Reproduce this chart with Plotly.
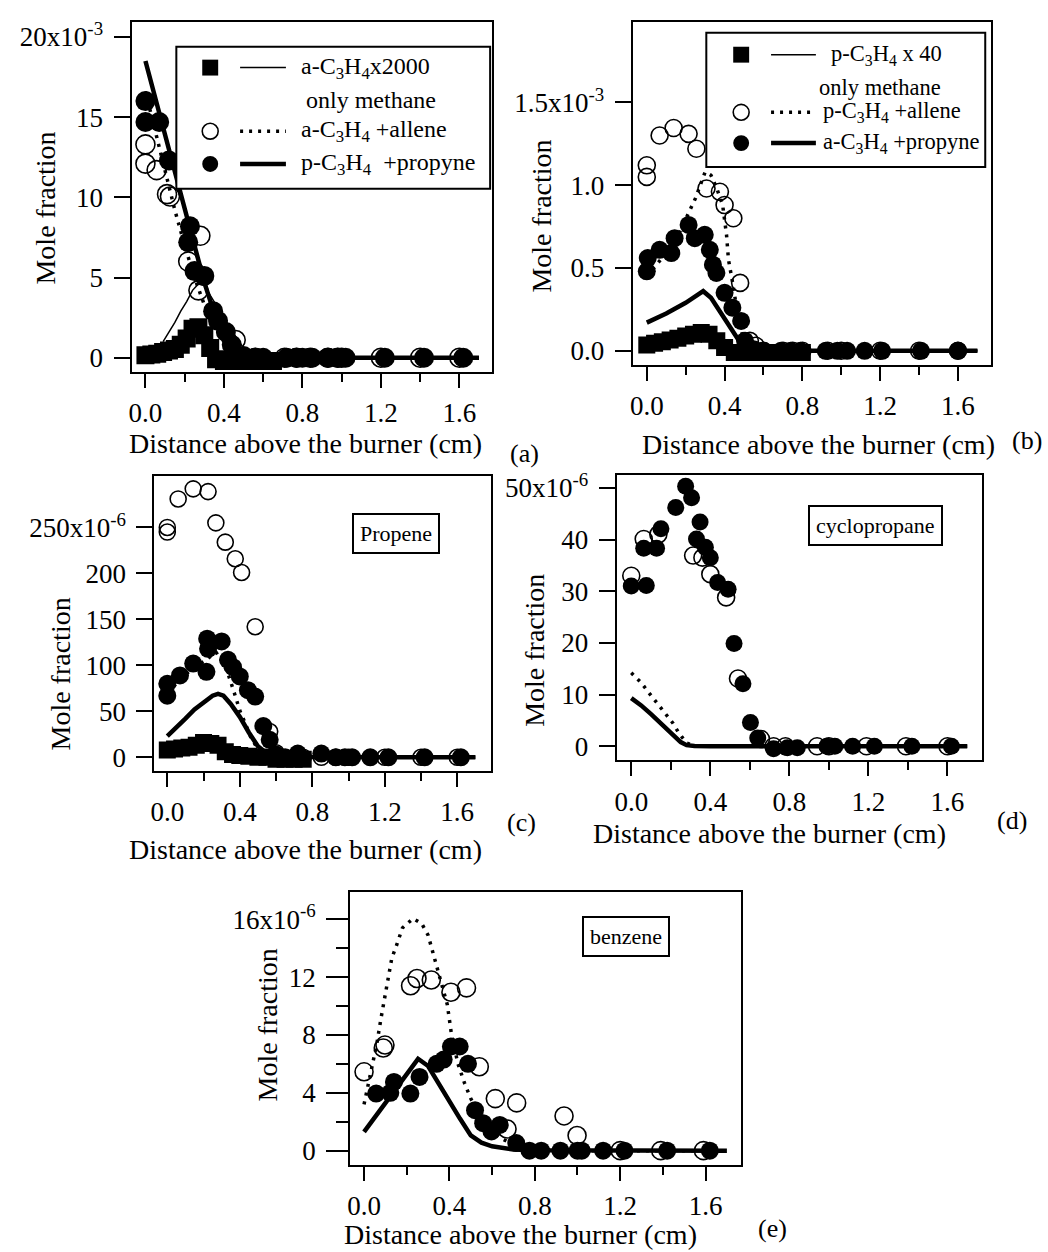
import plotly.graph_objects as go

W, H = 1048, 1252
FONT = "Liberation Serif"

# ---------------- data (y in units of the top tick exponent) ----------------
X_TICKS = [0.0, 0.4, 0.8, 1.2, 1.6]
X_TICK_TEXT = ["0.0", "0.4", "0.8", "1.2", "1.6"]
X_MINOR = [0.2, 0.6, 1.0, 1.4]

# (a) a-C3H4, units 1e-3
a_open_x = [0.0, 0.0, 0.057, 0.11, 0.125, 0.218, 0.28, 0.27, 0.46, 0.56, 0.71, 0.77, 0.84, 0.93, 0.98, 1.0, 1.2, 1.4, 1.6]
a_open_y = [13.3, 12.1, 11.7, 10.2, 10.05, 6.0, 7.6, 4.2, 1.1, 0.0, 0.0, 0.0, 0.0, 0.0, 0.0, 0.0, 0.0, 0.0, 0.0]
a_fill_x = [0.0, 0.0, 0.07, 0.12, 0.227, 0.218, 0.25, 0.3, 0.345, 0.37, 0.41, 0.44, 0.5, 0.56, 0.6, 0.72, 0.77, 0.8, 0.85, 0.93, 0.98, 1.02, 1.22, 1.42, 1.62]
a_fill_y = [16.0, 14.7, 14.7, 12.3, 8.2, 7.2, 5.4, 5.1, 2.9, 2.3, 1.6, 0.8, 0.1, 0.0, 0.0, 0.0, 0.0, 0.0, 0.0, 0.0, 0.0, 0.0, 0.0, 0.0, 0.0]
a_sq_x = [0.0, 0.03, 0.06, 0.09, 0.12, 0.15, 0.18, 0.21, 0.24, 0.27, 0.3, 0.33, 0.36, 0.4, 0.45, 0.5, 0.55, 0.6, 0.65]
a_sq_y = [0.15, 0.2, 0.25, 0.35, 0.45, 0.55, 0.8, 1.2, 1.8, 1.9, 1.4, 0.6, -0.1, -0.2, -0.2, -0.2, -0.2, -0.2, -0.2]
a_model_x = [0.0, 0.05, 0.1, 0.15, 0.2, 0.25, 0.3, 0.35, 0.4, 0.45, 0.5, 0.55, 0.6, 0.7, 0.8, 1.0, 1.2, 1.4, 1.7]
a_thick_y = [18.5, 16.2, 13.9, 11.6, 9.2, 6.9, 4.7, 2.8, 1.4, 0.6, 0.25, 0.1, 0.05, 0.0, 0.0, 0.0, 0.0, 0.0, 0.0]
a_dot_y = [16.6, 14.1, 11.5, 9.2, 7.0, 5.0, 3.3, 2.0, 1.0, 0.4, 0.15, 0.05, 0.0, 0.0, 0.0, 0.0, 0.0, 0.0, 0.0]
a_thin_x = [0.09, 0.12, 0.15, 0.18, 0.21, 0.24, 0.27, 0.3, 0.35, 0.4, 0.45, 0.5, 0.55, 0.6, 0.8, 1.0, 1.2, 1.4, 1.7]
a_thin_y = [1.0, 1.6, 2.2, 2.9, 3.5, 4.2, 4.6, 4.5, 3.5, 2.5, 1.5, 0.6, 0.15, 0.03, 0.0, 0.0, 0.0, 0.0, 0.0]

# (b) p-C3H4, units 1e-3
b_open_x = [0.0, 0.0, 0.066, 0.138, 0.215, 0.255, 0.307, 0.376, 0.40, 0.445, 0.48, 0.53, 0.56, 0.6, 0.7, 0.75, 0.8, 0.93, 1.0, 1.2, 1.4, 1.6]
b_open_y = [1.12, 1.05, 1.30, 1.345, 1.31, 1.22, 0.98, 0.96, 0.88, 0.80, 0.41, 0.06, 0.03, 0.0, 0.0, 0.0, 0.0, 0.0, 0.0, 0.0, 0.0, 0.0]
b_fill_x = [0.0, 0.005, 0.066, 0.126, 0.143, 0.215, 0.247, 0.298, 0.324, 0.34, 0.358, 0.40, 0.44, 0.485, 0.505, 0.55, 0.6, 0.69, 0.74, 0.79, 0.92, 0.98, 1.03, 1.12, 1.21, 1.41, 1.6]
b_fill_y = [0.48, 0.56, 0.61, 0.59, 0.68, 0.76, 0.68, 0.70, 0.61, 0.52, 0.47, 0.35, 0.26, 0.18, 0.06, 0.01, 0.0, 0.0, 0.0, 0.0, 0.0, 0.0, 0.0, 0.0, 0.0, 0.0, 0.0]
b_sq_x = [0.0, 0.04, 0.08, 0.12, 0.16, 0.2, 0.24, 0.28, 0.32, 0.36, 0.4, 0.45, 0.5, 0.55, 0.6, 0.65, 0.7, 0.75, 0.8]
b_sq_y = [0.035, 0.045, 0.055, 0.065, 0.075, 0.09, 0.1, 0.11, 0.1, 0.06, 0.02, -0.01, -0.01, -0.01, -0.01, -0.01, -0.01, -0.01, -0.01]
b_thin_x = [0.0, 0.1, 0.2, 0.28, 0.35, 0.4, 0.45, 0.5, 0.6, 0.8, 1.0, 1.2, 1.4, 1.7]
b_thin_y = [0.03, 0.06, 0.09, 0.11, 0.08, 0.04, 0.015, 0.005, 0.0, 0.0, 0.0, 0.0, 0.0, 0.0]
b_thick_x = [0.0, 0.1, 0.2, 0.29, 0.33, 0.37, 0.41, 0.45, 0.48, 0.52, 0.6, 0.8, 1.0, 1.2, 1.4, 1.7]
b_thick_y = [0.17, 0.225, 0.29, 0.36, 0.32, 0.25, 0.17, 0.10, 0.05, 0.01, 0.0, 0.0, 0.0, 0.0, 0.0, 0.0]
b_dot_x = [0.0, 0.05, 0.1, 0.15, 0.2, 0.25, 0.3, 0.33, 0.36, 0.39, 0.41, 0.42, 0.44, 0.47, 0.5, 0.55, 0.6, 0.8, 1.0, 1.2, 1.4, 1.7]
b_dot_y = [0.45, 0.52, 0.59, 0.67, 0.79, 0.92, 1.08, 1.06, 0.98, 0.88, 0.70, 0.55, 0.42, 0.20, 0.06, 0.01, 0.0, 0.0, 0.0, 0.0, 0.0, 0.0]

# (c) propene, units 1e-6
c_open_x = [0.0, 0.0, 0.06, 0.143, 0.225, 0.268, 0.32, 0.375, 0.41, 0.485, 0.565, 0.6, 0.72, 0.75, 0.85, 0.93, 1.0, 1.2, 1.4, 1.6]
c_open_y = [250, 245, 281, 292, 289, 255, 234, 216, 201, 142, 28, 5, 0, 0, 0, 0, 0, 0, 0, 0]
c_fill_x = [0.0, 0.0, 0.07, 0.143, 0.216, 0.22, 0.225, 0.30, 0.335, 0.363, 0.40, 0.445, 0.485, 0.53, 0.565, 0.6, 0.65, 0.72, 0.85, 0.93, 0.98, 1.02, 1.12, 1.22, 1.42, 1.62]
c_fill_y = [80, 67, 89, 102, 93, 129, 118, 126, 106, 98, 88, 73, 66, 34, 19, 3, 0, 4, 4, 0, 0, 0, 0, 0, 0, 0]
c_sq_x = [0.0, 0.04, 0.08, 0.12, 0.16, 0.2, 0.24, 0.28, 0.32, 0.36, 0.4, 0.45, 0.5, 0.55, 0.6, 0.65, 0.7, 0.75]
c_sq_y = [8, 9, 10, 11, 13, 16, 15, 13, 6, 3, 2, 1, 0, 0, -2, -2, -2, -2]
c_thick_x = [0.0, 0.05, 0.1, 0.15, 0.2, 0.25, 0.28, 0.31, 0.35, 0.4, 0.45, 0.5, 0.55, 0.6, 0.7, 0.8, 1.0, 1.2, 1.4, 1.7]
c_thick_y = [23, 32, 42, 52, 60, 67, 69, 67, 58, 44, 27, 12, 4, 1.5, 0.3, 0, 0, 0, 0, 0]
c_dot_x = [0.0, 0.05, 0.1, 0.15, 0.2, 0.24, 0.27, 0.31, 0.34, 0.37, 0.4, 0.43, 0.46, 0.5, 0.55, 0.6, 0.8, 1.0, 1.2, 1.4, 1.7]
c_dot_y = [70, 80, 90, 98, 104, 110, 114, 102, 88, 70, 51, 37, 22, 9, 2, 0.5, 0, 0, 0, 0, 0]

# (d) cyclopropane, units 1e-6
d_open_x = [0.0, 0.063, 0.137, 0.313, 0.36, 0.40, 0.48, 0.54, 0.656, 0.72, 0.78, 0.94, 1.0, 1.19, 1.39, 1.6]
d_open_y = [33.0, 40.1, 41.0, 36.9, 36.5, 33.3, 28.8, 13.1, 1.4, 0.0, 0.0, 0.0, 0.0, 0.0, 0.0, 0.0]
d_fill_x = [0.0, 0.076, 0.063, 0.128, 0.15, 0.225, 0.275, 0.305, 0.348, 0.33, 0.375, 0.40, 0.437, 0.49, 0.52, 0.565, 0.603, 0.64, 0.72, 0.79, 0.84, 0.99, 1.03, 1.12, 1.23, 1.42, 1.62]
d_fill_y = [31.0, 31.1, 38.3, 38.3, 42.1, 46.2, 50.3, 48.1, 43.4, 40.1, 38.5, 36.5, 31.7, 30.4, 19.9, 12.1, 4.6, 1.6, -0.5, -0.3, -0.3, 0.0, 0.0, 0.0, 0.0, 0.0, 0.0]
d_thick_x = [0.0, 0.05, 0.1, 0.15, 0.2, 0.25, 0.28, 0.32, 0.4, 0.6, 0.8, 1.0, 1.2, 1.4, 1.7]
d_thick_y = [9.3, 7.9, 6.2, 4.4, 2.5, 0.8, 0.2, 0.05, 0.0, 0.0, 0.0, 0.0, 0.0, 0.0, 0.0]
d_dot_x = [0.0, 0.05, 0.09, 0.13, 0.17, 0.21, 0.24, 0.28, 0.32, 0.4, 0.6, 0.8, 1.0, 1.2, 1.4, 1.7]
d_dot_y = [14.2, 12.3, 10.3, 8.4, 6.4, 4.5, 2.6, 0.6, 0.05, 0.0, 0.0, 0.0, 0.0, 0.0, 0.0, 0.0]

# (e) benzene, units 1e-6
e_open_x = [0.0, 0.09, 0.098, 0.218, 0.248, 0.315, 0.407, 0.48, 0.54, 0.615, 0.67, 0.715, 0.937, 0.998, 1.2, 1.39, 1.59]
e_open_y = [5.45, 7.1, 7.3, 11.4, 11.9, 11.8, 10.95, 11.25, 5.8, 3.6, 1.5, 3.3, 2.4, 1.05, 0.0, 0.0, 0.0]
e_fill_x = [0.057, 0.123, 0.14, 0.217, 0.26, 0.34, 0.373, 0.407, 0.448, 0.487, 0.52, 0.558, 0.597, 0.636, 0.713, 0.775, 0.83, 0.92, 1.0, 1.02, 1.12, 1.22, 1.42, 1.62]
e_fill_y = [3.95, 4.0, 4.75, 3.95, 5.1, 6.0, 6.3, 7.2, 7.2, 6.0, 2.8, 1.9, 1.33, 1.78, 0.53, 0.0, 0.0, 0.0, 0.0, 0.0, 0.0, 0.0, 0.0, 0.0]
e_thick_x = [0.0, 0.05, 0.1, 0.15, 0.2, 0.253, 0.3, 0.35, 0.4, 0.45, 0.5, 0.55, 0.6, 0.7, 0.8, 1.0, 1.2, 1.4, 1.7]
e_thick_y = [1.3, 2.3, 3.3, 4.3, 5.3, 6.35, 5.85, 4.6, 3.4, 2.2, 1.05, 0.55, 0.3, 0.08, 0.02, 0.0, 0.0, 0.0, 0.0]
e_dot_x = [0.0, 0.03, 0.06, 0.08, 0.1, 0.13, 0.15, 0.18, 0.23, 0.27, 0.3, 0.33, 0.36, 0.39, 0.41, 0.44, 0.47, 0.5, 0.55, 0.6, 0.65, 0.7, 0.8, 1.0, 1.2, 1.4, 1.7]
e_dot_y = [3.2, 5.3, 7.4, 9.2, 10.8, 13.3, 14.1, 15.4, 16.05, 15.7, 14.9, 13.3, 11.6, 10.1, 8.0, 6.0, 4.7, 3.6, 2.3, 1.4, 0.8, 0.4, 0.1, 0.0, 0.0, 0.0, 0.0]

# y tick labels
a_yt = [0, 5, 10, 15, 20]
a_ytt = ["0", "5", "10", "15", "20x10<sup>-3</sup>"]
b_yt = [0.0, 0.5, 1.0, 1.5]
b_ytt = ["0.0", "0.5", "1.0", "1.5x10<sup>-3</sup>"]
c_yt = [0, 50, 100, 150, 200, 250]
c_ytt = ["0", "50", "100", "150", "200", "250x10<sup>-6</sup>"]
d_yt = [0, 10, 20, 30, 40, 50]
d_ytt = ["0", "10", "20", "30", "40", "50x10<sup>-6</sup>"]
e_yt = [0, 4, 8, 12, 16]
e_ytt = ["0", "4", "8", "12", "16x10<sup>-6</sup>"]
e_yminor = [2, 6, 10, 14]

# ---------------- layout helpers ----------------
def px(x):
    return x / W


def py(y):
    return 1 - y / H


fig = go.Figure()

DOT = "3px,6px"


def add_line(xs, ys, ax, kind):
    if kind == "thick":
        ln = dict(color="black", width=4.5)
    elif kind == "thin":
        ln = dict(color="black", width=1.5)
    else:
        ln = dict(color="black", width=3.5, dash=DOT)
    fig.add_trace(go.Scatter(x=xs, y=ys, mode="lines", line=ln, xaxis="x" + ax, yaxis="y" + ax,
                             showlegend=False, hoverinfo="skip"))


def add_pts(xs, ys, ax, kind, size):
    if kind == "open":
        mk = dict(symbol="circle-open", size=size, color="black", line=dict(width=1.6, color="black"))
    elif kind == "fill":
        mk = dict(symbol="circle", size=size, color="black", line=dict(width=0))
    else:
        mk = dict(symbol="square", size=size, color="black", line=dict(width=0))
    fig.add_trace(go.Scatter(x=xs, y=ys, mode="markers", marker=mk, xaxis="x" + ax, yaxis="y" + ax,
                             showlegend=False, hoverinfo="skip"))


# panel a
add_pts(a_sq_x, a_sq_y, "", "sq", 18)
add_line(a_thin_x, a_thin_y, "", "thin")
add_line(a_model_x, a_dot_y, "", "dot")
add_line(a_model_x, a_thick_y, "", "thick")
add_pts(a_open_x, a_open_y, "", "open", 19)
add_pts(a_fill_x, a_fill_y, "", "fill", 20)
# panel b
add_pts(b_sq_x, b_sq_y, "2", "sq", 17)
add_line(b_thin_x, b_thin_y, "2", "thin")
add_line(b_dot_x, b_dot_y, "2", "dot")
add_line(b_thick_x, b_thick_y, "2", "thick")
add_pts(b_open_x, b_open_y, "2", "open", 17)
add_pts(b_fill_x, b_fill_y, "2", "fill", 18)
# panel c
add_pts(c_sq_x, c_sq_y, "3", "sq", 17)
add_line(c_dot_x, c_dot_y, "3", "dot")
add_line(c_thick_x, c_thick_y, "3", "thick")
add_pts(c_open_x, c_open_y, "3", "open", 16)
add_pts(c_fill_x, c_fill_y, "3", "fill", 18)
# panel d
add_line(d_dot_x, d_dot_y, "4", "dot")
add_line(d_thick_x, d_thick_y, "4", "thick")
add_pts(d_open_x, d_open_y, "4", "open", 17)
add_pts(d_fill_x, d_fill_y, "4", "fill", 17)
# panel e
add_line(e_dot_x, e_dot_y, "5", "dot")
add_line(e_thick_x, e_thick_y, "5", "thick")
add_pts(e_open_x, e_open_y, "5", "open", 18)
add_pts(e_fill_x, e_fill_y, "5", "fill", 18)

TICKFONT = dict(family=FONT, size=27, color="black")


def xcfg(l, r, rng, anchor):
    return dict(domain=[px(l), px(r)], range=rng, anchor=anchor, showline=True, linewidth=2,
                linecolor="black", mirror=True, ticks="outside", ticklen=14, tickwidth=2,
                tickcolor="black", tickmode="array", tickvals=X_TICKS, ticktext=X_TICK_TEXT,
                tickfont=TICKFONT, showgrid=False, zeroline=False, ticklabelstandoff=2,
                minor=dict(tickmode="array", tickvals=X_MINOR, ticks="outside", ticklen=8,
                           tickwidth=2, tickcolor="black", showgrid=False))


def ycfg(t, b, rng, anchor, tv, tt, tlen=16, minor=None):
    d = dict(domain=[py(b), py(t)], range=rng, anchor=anchor, showline=True, linewidth=2,
             linecolor="black", mirror=True, ticks="outside", ticklen=tlen, tickwidth=2,
             tickcolor="black", tickmode="array", tickvals=tv, ticktext=tt, tickfont=TICKFONT,
             showgrid=False, zeroline=False, ticklabelstandoff=5)
    if minor:
        d["minor"] = dict(tickmode="array", tickvals=minor, ticks="outside", ticklen=12,
                          tickwidth=2, tickcolor="black", showgrid=False)
    return d


fig.update_layout(
    width=W, height=H, margin=dict(l=0, r=0, t=0, b=0),
    paper_bgcolor="white", plot_bgcolor="white", showlegend=False,
    font=dict(family=FONT, color="black"),
    xaxis=xcfg(128, 490, [-0.071, 1.767], "y"),
    yaxis=ycfg(16, 368, [-0.87, 20.94], "x", a_yt, a_ytt),
    xaxis2=xcfg(631, 991, [-0.073, 1.771], "y2"),
    yaxis2=ycfg(16, 361, [-0.084, 1.986], "x2", b_yt, b_ytt),
    xaxis3=xcfg(151, 489, [-0.071, 1.787], "y3"),
    yaxis3=ycfg(473, 770, [-15, 306], "x3", c_yt, c_ytt),
    xaxis4=xcfg(615, 982, [-0.074, 1.776], "y4"),
    yaxis4=ycfg(472, 759, [-2.7, 52.5], "x4", d_yt, d_ytt),
    xaxis5=xcfg(347.5, 739.6, [-0.065, 1.765], "y5"),
    yaxis5=ycfg(892, 1166, [-0.96, 17.86], "x5", e_yt, e_ytt, tlen=22, minor=e_yminor),
)

ann = []
shapes = []
XT = "Distance above the burner (cm)"
YT = "Mole fraction"


def text(x, y, s, size, anchor="center", angle=0):
    ann.append(dict(x=px(x), y=py(y), xref="paper", yref="paper", text=s, showarrow=False,
                    xanchor=anchor, yanchor="middle", textangle=angle,
                    font=dict(family=FONT, size=size, color="black")))


# axis titles
for (cx, cy) in [(303, 440), (818, 441), (303, 849), (768, 833), (518, 1236)]:
    text(cx, cy, XT, 28)
for (cx, cy) in [(42, 203), (540, 211), (57, 672), (533, 648), (264, 1025)]:
    text(cx, cy, YT, 28, angle=-90)
# panel letters
for (cx, cy, s) in [(522, 450, "(a)"), (1027, 437, "(b)"), (519, 822, "(c)"), (1012, 820, "(d)"),
                    (771, 1230, "(e)")]:
    text(cx, cy, s, 26)

# boxed species labels
for (cx, cy, s) in [(393, 531, "Propene"), (875, 523, "cyclopropane"), (624, 936, "benzene")]:
    ann.append(dict(x=px(cx), y=py(cy), xref="paper", yref="paper", text=s, showarrow=False,
                    xanchor="center", yanchor="middle", bordercolor="black", borderwidth=2,
                    borderpad=6, bgcolor="white",
                    font=dict(family=FONT, size=22, color="black")))


def legend(box, mx, rows, line_x, fsize, msize):
    x0, y0, x1, y1 = box
    shapes.append(dict(type="rect", xref="paper", yref="paper", x0=px(x0), x1=px(x1),
                       y0=py(y1), y1=py(y0), line=dict(color="black", width=2),
                       fillcolor="white", layer="above"))
    for (ry, kind, label, tx) in rows:
        if kind is not None:
            r = msize / 2
            if kind == "sq":
                shapes.append(dict(type="rect", xref="paper", yref="paper", x0=px(mx - r), x1=px(mx + r),
                                   y0=py(ry + r), y1=py(ry - r), line=dict(width=0),
                                   fillcolor="black", layer="above"))
                ln = dict(color="black", width=1.5)
            elif kind == "open":
                shapes.append(dict(type="circle", xref="paper", yref="paper", x0=px(mx - r), x1=px(mx + r),
                                   y0=py(ry + r), y1=py(ry - r), line=dict(width=1.6, color="black"),
                                   fillcolor="rgba(0,0,0,0)", layer="above"))
                ln = dict(color="black", width=3.5, dash=DOT)
            else:
                shapes.append(dict(type="circle", xref="paper", yref="paper", x0=px(mx - r), x1=px(mx + r),
                                   y0=py(ry + r), y1=py(ry - r), line=dict(width=0),
                                   fillcolor="black", layer="above"))
                ln = dict(color="black", width=4.5)
            shapes.append(dict(type="line", xref="paper", yref="paper", x0=px(line_x[0]), x1=px(line_x[1]),
                               y0=py(ry), y1=py(ry), line=ln, layer="above"))
        text(tx, ry, label, fsize, anchor="left")


legend((173, 41, 488, 184), 207,
       [(62, "sq", "a-C<sub>3</sub>H<sub>4</sub>x2000", 296),
        (95, None, "only methane", 301),
        (126, "open", "a-C<sub>3</sub>H<sub>4</sub> +allene", 296),
        (159, "fill", "p-C<sub>3</sub>H<sub>4</sub>&nbsp; +propyne", 296)],
       (237, 283), 24, 16)
legend((705, 27, 985, 162), 740,
       [(49, "sq", "p-C<sub>3</sub>H<sub>4</sub> x 40", 828),
        (82, None, "only methane", 816),
        (107, "open", "p-C<sub>3</sub>H<sub>4</sub> +allene", 820),
        (138, "fill", "a-C<sub>3</sub>H<sub>4</sub> +propyne", 820)],
       (770, 815), 22.5, 16)

fig.update_layout(annotations=ann, shapes=shapes)
fig.write_html("out.html", config={"displayModeBar": False},
               post_script="document.body.style.margin='0px'; document.body.style.overflow='hidden';")
